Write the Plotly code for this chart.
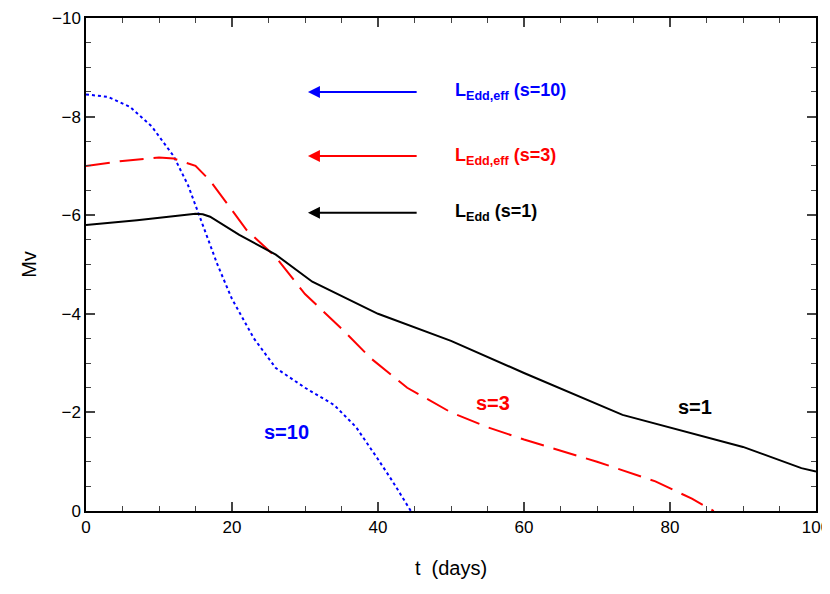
import plotly.graph_objects as go

# s=1 (black solid)
t1 = [0, 7, 15, 16, 17, 21, 26, 31, 40, 50, 60, 73.5, 90, 98, 100]
mv1 = [-5.8, -5.9, -6.03, -6.02, -5.97, -5.6, -5.2, -4.65, -4.0, -3.45, -2.8, -1.95, -1.3, -0.87, -0.8]

# s=3 (red dashed)
t3 = [0, 5, 10, 12, 15, 17, 19, 22, 26, 30, 35, 39, 44, 50, 55, 60, 70, 78, 83, 86]
mv3 = [-7.0, -7.1, -7.17, -7.15, -7.0, -6.7, -6.3, -5.7, -5.15, -4.4, -3.7, -3.1, -2.5, -2.0, -1.7, -1.45, -1.0, -0.6, -0.25, 0]

# s=10 (blue dotted)
t10 = [0, 3, 6, 9, 12, 14, 16, 18, 20, 23, 26, 30, 34, 37, 40, 42, 44.5]
mv10 = [-8.45, -8.4, -8.2, -7.8, -7.2, -6.6, -5.8, -5.0, -4.3, -3.5, -2.9, -2.5, -2.15, -1.7, -1.05, -0.6, 0]

fig = go.Figure()
fig.add_trace(go.Scatter(x=t10, y=mv10, mode="lines", line=dict(color="blue", width=2, dash="dot")))
fig.add_trace(go.Scatter(x=t3, y=mv3, mode="lines", line=dict(color="red", width=2, dash="24px,10px")))
fig.add_trace(go.Scatter(x=t1, y=mv1, mode="lines", line=dict(color="black", width=2)))

# Eddington-limit arrows and labels
arrows = [
    (-8.5, "blue", "<b>L<sub>Edd,eff</sub> (s=10)</b>"),
    (-7.2, "red", "<b>L<sub>Edd,eff</sub> (s=3)</b>"),
    (-6.05, "black", "<b>L<sub>Edd</sub> (s=1)</b>"),
]
for y, c, lab in arrows:
    fig.add_annotation(x=30.4, y=y, ax=45.5, ay=y, xref="x", yref="y", axref="x", ayref="y",
                       text="", showarrow=True, arrowhead=2, arrowsize=1.2, arrowwidth=2, arrowcolor=c)
    fig.add_annotation(x=50.3, y=y, text=lab, showarrow=False, xanchor="left",
                       font=dict(color=c, size=18))

for x, y, c, lab in [(27.5, -1.6, "blue", "s=10"), (55.8, -2.2, "red", "s=3"), (83.4, -2.1, "black", "s=1")]:
    fig.add_annotation(x=x, y=y, text="<b>" + lab + "</b>", showarrow=False, font=dict(color=c, size=20))

axis_common = dict(showgrid=False, zeroline=False, showline=True, linecolor="black", linewidth=1.5,
                   mirror="allticks", ticks="inside", ticklen=9, tickwidth=1.5, automargin=False,
                   minor=dict(ticks="inside", ticklen=5, tickwidth=1.2),
                   tickfont=dict(size=17))
fig.update_layout(
    width=830, height=594,
    plot_bgcolor="white", paper_bgcolor="white",
    font=dict(family="Liberation Sans", color="black"),
    showlegend=False,
    margin=dict(l=78, r=22, t=10, b=91),
    xaxis=dict(range=[0, 100], dtick=20, minor_dtick=5,
               title=dict(text="t  (days)", font=dict(size=20), standoff=25), **axis_common),
    yaxis=dict(range=[0, -10], dtick=2, minor_dtick=0.5,
               title=dict(text="Mv", font=dict(size=20), standoff=10), **axis_common),
)

fig.write_html("out.html")
